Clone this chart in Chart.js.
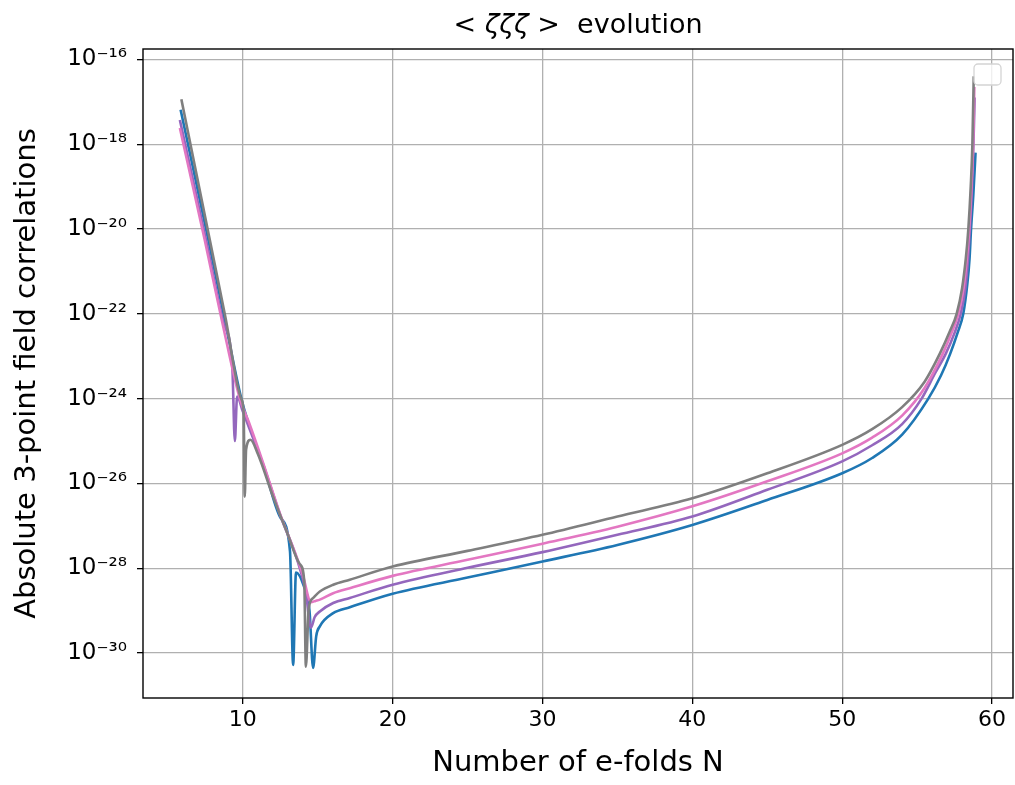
<!DOCTYPE html>
<html>
<head>
<meta charset="utf-8">
<script src="https://cdn.jsdelivr.net/npm/chart.js@4.4.1/dist/chart.umd.min.js"></script>
<style>
html,body{margin:0;padding:0;background:#fff;}
#wrap{width:1015px;height:785px;position:relative;}
</style>
</head>
<body>
<div id="wrap"><canvas id="c" width="1015" height="785"></canvas></div>
<script>
// ---- Text ----
const titleParts = [['<', false], [' ', false], ['ζζζ', true], [' >  evolution', false]];
const xLabel = 'Number of e-folds N';
const yLabel = 'Absolute 3-point field correlations';

// ---- Axes ----
const xTicks = [10, 20, 30, 40, 50, 60];
const yTickExps = [-16, -18, -20, -22, -24, -26, -28, -30];
const X_MIN = 3.34, X_MAX = 61.4;
const Y_MIN_EXP = -31.06, Y_MAX_EXP = -15.755;

// ---- Series (N values and log10 of |<zeta zeta zeta>|) ----
const grayN   = [5.9, 7.8, 8.85, 9.89, 10.06, 10.13, 10.22, 10.51, 11.0, 12.02, 13.0, 13.8, 14.1, 14.21, 14.4, 14.7, 15.14, 16.03, 17.14, 20, 25, 30, 35, 40, 45, 50, 52, 54, 55.5, 56.5, 57.2, 57.64, 58.0, 58.25, 58.42, 58.58, 58.69, 58.78];
const grayExp = [-16.94, -20.26, -22.1, -24.0, -24.35, -26.31, -25.2, -24.97, -25.3, -26.31, -27.2, -27.9, -28.3, -30.32, -28.95, -28.7, -28.55, -28.39, -28.27, -27.96, -27.59, -27.21, -26.78, -26.35, -25.76, -25.09, -24.72, -24.2, -23.6, -22.95, -22.4, -22.0, -21.4, -20.7, -20.0, -19.0, -18.0, -16.4];

const pinkN   = [5.8, 7.46, 8.6, 9.8, 10.4, 11.36, 12.47, 13.58, 14.0, 14.55, 14.85, 15.14, 16.03, 17.14, 20, 25, 30, 35, 40, 45, 50, 52, 54, 55.5, 56.7, 57.3, 57.75, 58.1, 58.32, 58.48, 58.63, 58.74, 58.82];
const pinkExp = [-17.62, -20.26, -22.15, -24.0, -24.55, -25.52, -26.70, -27.72, -28.15, -28.8, -28.77, -28.74, -28.59, -28.47, -28.18, -27.80, -27.42, -27.02, -26.54, -25.95, -25.29, -24.92, -24.4, -23.75, -22.95, -22.45, -22.0, -21.4, -20.7, -20.0, -19.0, -18.0, -16.65];

const purpleN   = [5.8, 7.55, 8.7, 9.3, 9.47, 9.62, 10.0, 11.4, 12.5, 13.58, 14.2, 14.55, 14.8, 15.14, 16.03, 17.14, 20, 25, 30, 35, 40, 45, 50, 52, 54, 55.3, 56.2, 56.9, 57.5, 57.91, 58.22, 58.4, 58.52, 58.66, 58.76, 58.84];
const purpleExp = [-17.43, -20.26, -22.2, -23.25, -25.0, -23.95, -24.3, -25.6, -26.75, -27.75, -28.55, -29.4, -29.15, -29.02, -28.82, -28.70, -28.39, -27.99, -27.62, -27.21, -26.78, -26.15, -25.48, -25.1, -24.6, -24.0, -23.4, -22.95, -22.45, -22.0, -21.4, -20.7, -20.0, -19.0, -18.0, -16.9];

const blueN   = [5.85, 7.7, 8.8, 9.9, 10.4, 11.4, 12.5, 13.15, 13.36, 13.55, 14.05, 14.45, 14.69, 14.9, 15.14, 16.03, 17.14, 20, 25, 30, 35, 40, 45, 50, 52, 54, 55.75, 56.6, 57.2, 57.7, 58.08, 58.35, 58.5, 58.6, 58.75, 58.9];
const blueExp = [-17.19, -20.26, -22.15, -24.0, -24.6, -25.6, -26.8, -27.6, -30.28, -28.1, -28.4, -29.0, -30.35, -29.6, -29.37, -29.06, -28.92, -28.60, -28.22, -27.84, -27.45, -26.98, -26.39, -25.76, -25.4, -24.85, -24.0, -23.45, -22.95, -22.45, -22.0, -21.3, -20.7, -20.0, -19.2, -18.2];

const toPoints = (ns, es) => ns.map((n, i) => ({x: n, y: Math.pow(10, es[i])}));
const SUP = {'-':'\u207B','0':'\u2070','1':'\u00B9','2':'\u00B2','3':'\u00B3','4':'\u2074','5':'\u2075','6':'\u2076','7':'\u2077','8':'\u2078','9':'\u2079'};
const supStr = s => String(s).split('').map(c => SUP[c] || c).join('');

Chart.defaults.font.family = "'DejaVu Sans', sans-serif";
Chart.defaults.color = '#000';

const framePlugin = {
  id: 'frame',
  afterDraw(chart) {
    const {ctx, chartArea: {left, top, right, bottom}} = chart;
    ctx.save();
    // empty legend box
    const w = 27, h = 21, bx = right - 12 - w, by = top + 15;
    ctx.beginPath();
    ctx.roundRect(bx, by, w, h, 4);
    ctx.fillStyle = 'rgba(255,255,255,0.8)';
    ctx.fill();
    ctx.strokeStyle = '#d4d4d4';
    ctx.lineWidth = 1.3;
    ctx.stroke();
    // spines
    ctx.strokeStyle = '#000';
    ctx.lineWidth = 1.4;
    ctx.strokeRect(left, top, right - left, bottom - top);
    // title
    ctx.fillStyle = '#000';
    ctx.textBaseline = 'alphabetic';
    ctx.textAlign = 'left';
    const fnt = it => (it ? 'italic ' : '') + "27px 'DejaVu Sans'";
    let total = 0;
    titleParts.forEach(([t, it]) => { ctx.font = fnt(it); total += ctx.measureText(t).width; });
    let x = (left + right) / 2 - total / 2;
    titleParts.forEach(([t, it]) => { ctx.font = fnt(it); ctx.fillText(t, x, 33); x += ctx.measureText(t).width; });
    ctx.restore();
  }
};

const mk = (label, ns, es, color, order) => ({
  label, data: toPoints(ns, es), borderColor: color, backgroundColor: color,
  borderWidth: 2.6, pointRadius: 0, fill: false, order,
  cubicInterpolationMode: 'monotone'
});

new Chart(document.getElementById('c'), {
  type: 'line',
  data: {
    datasets: [
      mk('blue', blueN, blueExp, '#1f77b4', 3),
      mk('purple', purpleN, purpleExp, '#9467bd', 2),
      mk('pink', pinkN, pinkExp, '#e377c2', 1),
      mk('gray', grayN, grayExp, '#7f7f7f', 0)
    ]
  },
  options: {
    responsive: false,
    animation: false,
    layout: {padding: {top: 49, right: 2, left: 0, bottom: 0}},
    plugins: {legend: {display: false}, tooltip: {enabled: false}, title: {display: false}},
    scales: {
      x: {
        type: 'linear', min: X_MIN, max: X_MAX,
        afterBuildTicks: s => { s.ticks = xTicks.map(v => ({value: v})); },
        afterFit: s => { s.height = 87; },
        ticks: {font: {size: 22}, padding: 3, maxRotation: 0, autoSkip: false, callback: v => String(v)},
        grid: {color: '#b0b0b0', lineWidth: 1.3, tickColor: '#000', tickLength: 6, tickWidth: 1.3},
        border: {display: false},
        title: {display: true, text: xLabel, font: {size: 29}, padding: {top: 0, bottom: 4}}
      },
      y: {
        type: 'logarithmic', min: Math.pow(10, Y_MIN_EXP), max: Math.pow(10, Y_MAX_EXP),
        afterBuildTicks: s => { s.ticks = yTickExps.map(e => ({value: Math.pow(10, e)})); },
        afterFit: s => { s.width = 143; },
        ticks: {font: {size: 23}, padding: 10, autoSkip: false,
          callback: v => '10' + supStr(Math.round(Math.log10(v)))},
        grid: {color: '#b0b0b0', lineWidth: 1.3, tickColor: '#000', tickLength: 6, tickWidth: 1.3},
        border: {display: false},
        title: {display: true, text: yLabel, font: {size: 29}, padding: {top: 10, bottom: 0}}
      }
    }
  },
  plugins: [framePlugin]
});
</script>
</body>
</html>
